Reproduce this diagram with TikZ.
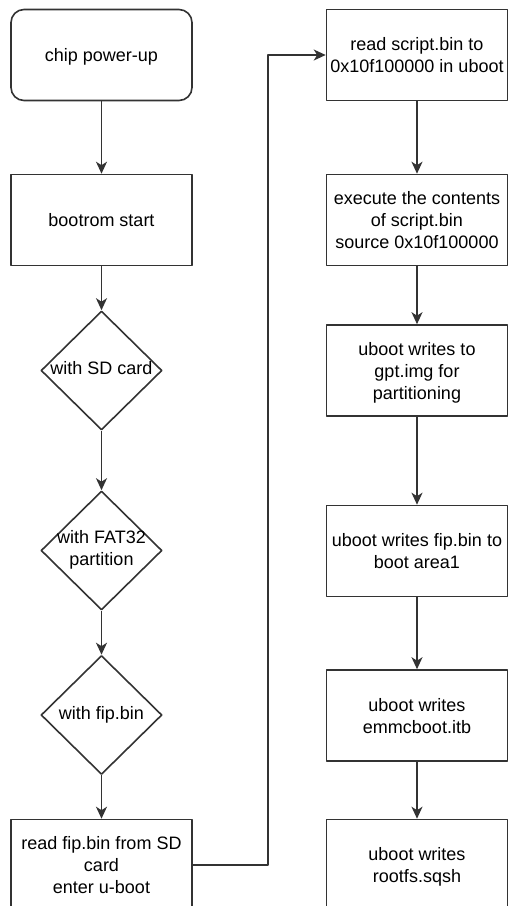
\documentclass[tikz,border=0pt]{standalone}
\usepackage{fontspec}
\setmainfont{Liberation Sans}
\usetikzlibrary{shapes.geometric,arrows.meta}
\newcommand{\dtxt}[1]{\makebox[0pt]{\begin{tabular}{@{}c@{}}#1\end{tabular}}}
\begin{document}
\begin{tikzpicture}[x=1pt,y=-1pt,line width=1.6pt,line join=round,
  color=black!80,text=black,font=\fontsize{18}{22}\selectfont,
  box/.style={draw,rectangle,minimum width=181pt,minimum height=91pt,align=center,inner sep=0pt,text depth=0pt},
  dec/.style={draw,diamond,minimum width=121pt,minimum height=119pt,inner sep=0pt},
  flow/.style={-{Stealth[length=12pt,width=11pt,inset=3.5pt]}}]
\useasboundingbox (0,0) rectangle (507,906);
\fill[white] (0,0) rectangle (507,906);
  \node[box,rounded corners=13pt] (up) at (101.5,55) {chip power-up};
  \node[box] (rom) at (101.5,220) {bootrom start};
  \node[dec] (sd) at (101.5,370.5) {\dtxt{with SD card}};
  \node[dec] (fat) at (101.5,550.5) {\dtxt{with FAT32\\partition}};
  \node[dec] (fip) at (101.5,715) {\dtxt{with fip.bin}};
  \node[box] (rd) at (101.5,865) {read fip.bin from SD\\card\\enter u-boot};
  \node[box] (scr) at (417,55) {read script.bin to\\0x10f100000 in uboot};
  \node[box] (ex) at (417,220) {execute the contents\\of script.bin\\source 0x10f100000};
  \node[box] (gpt) at (417,370.5) {uboot writes to\\gpt.img for\\partitioning};
  \node[box] (ar1) at (417,551) {uboot writes fip.bin to\\boot area1};
  \node[box] (emmc) at (417,715.5) {uboot writes\\emmcboot.itb};
  \node[box] (rfs) at (417,865) {uboot writes\\rootfs.sqsh};
  \draw[flow] (up) -- (rom);
  \draw[flow] (rom) -- (sd);
  \draw[flow] (sd) -- (fat);
  \draw[flow] (fat) -- (fip);
  \draw[flow] (fip) -- (rd);
  \draw[flow] (rd.east) -- ++(75,0) |- (scr.west);
  \draw[flow] (scr) -- (ex);
  \draw[flow] (ex) -- (gpt);
  \draw[flow] (gpt) -- (ar1);
  \draw[flow] (ar1) -- (emmc);
  \draw[flow] (emmc) -- (rfs);
\end{tikzpicture}
\end{document}
